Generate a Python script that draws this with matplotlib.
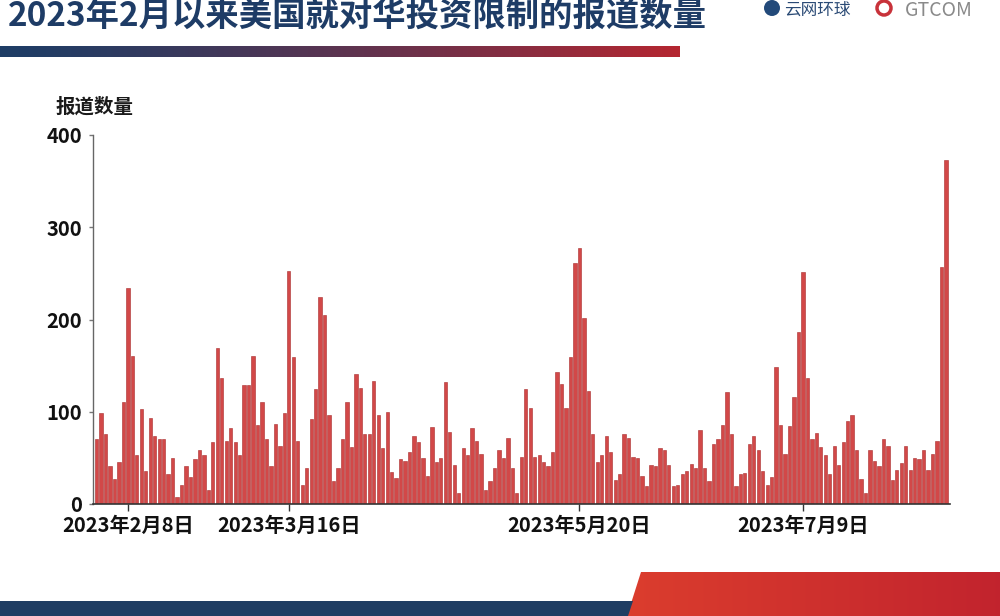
import numpy as np
import pandas as pd
import matplotlib
matplotlib.use("Agg")
import matplotlib.pyplot as plt
from matplotlib.patches import Polygon, Circle

plt.rcParams['font.family'] = ['Noto Sans CJK SC', 'DejaVu Sans']

# daily report counts, 2023-02-01 .. 2023-08-10
counts = [
    71, 99, 76, 41, 27, 45, 111, 234, 160, 53, 103, 36, 93, 74, 71, 70, 32, 50, 8, 21,
    41, 29, 49, 59, 53, 15, 67, 169, 137, 68, 82, 67, 53, 129, 129, 160, 86, 111, 71, 41,
    87, 63, 99, 253, 159, 68, 21, 39, 92, 125, 224, 205, 96, 25, 39, 71, 111, 62, 141, 126,
    76, 76, 133, 96, 61, 100, 35, 28, 49, 47, 56, 74, 67, 50, 30, 83, 45, 50, 132, 78,
    42, 12, 61, 53, 82, 68, 54, 15, 25, 39, 58, 50, 72, 39, 12, 51, 125, 104, 51, 53,
    45, 41, 56, 143, 130, 104, 159, 261, 277, 202, 122, 76, 45, 53, 74, 56, 26, 32, 76, 72,
    51, 50, 30, 20, 42, 41, 61, 59, 42, 19, 21, 32, 36, 43, 39, 80, 39, 25, 65, 71,
    86, 121, 76, 20, 32, 34, 65, 74, 59, 36, 21, 29, 148, 86, 54, 85, 116, 186, 252, 137,
    71, 77, 62, 53, 33, 63, 42, 67, 90, 96, 59, 27, 12, 59, 47, 41, 71, 63, 26, 37,
    44, 63, 37, 50, 49, 59, 37, 54, 68, 257, 373,
]
start_date = "2023-02-01"
tick_dates = ["2023-02-08", "2023-03-16", "2023-05-20", "2023-07-09"]
tick_labels = ["2023年2月8日", "2023年3月16日", "2023年5月20日", "2023年7月9日"]
y_ticks = [0, 100, 200, 300, 400]

title = "2023年2月以来美国就对华投资限制的报道数量"
y_title = "报道数量"

day = np.arange(len(counts))
tick_pos = [(pd.Timestamp(d) - pd.Timestamp(start_date)).days for d in tick_dates]

fig = plt.figure(figsize=(10, 6.16), dpi=100)

# background decoration layer in pixel coords
bg = fig.add_axes([0, 0, 1, 1], zorder=0)
bg.set_xlim(0, 1000)
bg.set_ylim(616, 0)
bg.axis("off")

navy = np.array([0.12, 0.24, 0.40])
red = np.array([0.71, 0.15, 0.19])
t = np.linspace(0, 1, 256)
grad = np.array([navy * (1 - s**1.3) + red * s**1.3 for s in t])[None, :, :]
bg.imshow(grad, extent=(0, 680, 57, 46), aspect="auto", interpolation="bicubic")

# bottom bands
bg.add_patch(Polygon([(0, 601), (633, 601), (628, 616), (0, 616)], closed=True,
                     facecolor="#1f3d63", edgecolor="none"))
r1 = np.array([0.86, 0.24, 0.18])
r2 = np.array([0.76, 0.14, 0.18])
rgrad = np.array([r1 * (1 - s) + r2 * s for s in t])[None, :, :]
im = bg.imshow(rgrad, extent=(626, 1000, 616, 572), aspect="auto")
clip = Polygon([(641, 572), (1000, 572), (1000, 616), (627, 616)], closed=True,
               transform=bg.transData, facecolor="none", edgecolor="none")
bg.add_patch(clip)
im.set_clip_path(clip)

# logos (approximate)
bg.add_patch(Circle((772, 8), 8, facecolor="#234a7a", edgecolor="none"))
bg.add_patch(Circle((884, 8), 7, facecolor="none", edgecolor="#c8323a", linewidth=2.5))

# title and logo text
fig.text(0.008, 1 - 27 / 616, title, fontsize=24, fontweight="bold",
         color="#1e3c66", va="baseline", ha="left")
fig.text(0.905, 1 - 16 / 616, "GTCOM", fontsize=14, color="#8a8a8a",
         va="baseline", ha="left")
fig.text(0.784, 1 - 15 / 616, "云网环球", fontsize=12, color="#2a4a75",
         va="baseline", ha="left")
fig.text(0.055, 1 - 113 / 616, y_title, fontsize=14, fontweight="bold",
         color="#1a1a1a", va="baseline", ha="left")

# chart
ax = fig.add_axes([0.093, 112 / 616, 0.857, (504 - 135) / 616], zorder=2)
ax.patch.set_alpha(0)
ax.bar(day, counts, width=0.74, color="#d24848", edgecolor="#a82c2c", linewidth=0.4)
ax.set_xlim(-0.8, len(counts) - 0.1)
ax.set_ylim(0, 400)
ax.set_yticks(y_ticks)
ax.set_yticklabels([str(v) for v in y_ticks], fontsize=14.5, fontweight="semibold",
                   color="#111111")
ax.set_xticks(tick_pos)
ax.set_xticklabels(tick_labels, fontsize=14.5, fontweight="semibold", color="#111111")
ax.tick_params(axis="x", length=5, width=1, color="#333333", pad=3)
ax.tick_params(axis="y", length=3, width=1, color="#777777", pad=5)
for s in ["top", "right"]:
    ax.spines[s].set_visible(False)
ax.spines["left"].set_color("#666666")
ax.spines["bottom"].set_color("#333333")
ax.spines["left"].set_linewidth(1)
ax.spines["bottom"].set_linewidth(1.2)

fig.savefig("out.png", dpi=100)
